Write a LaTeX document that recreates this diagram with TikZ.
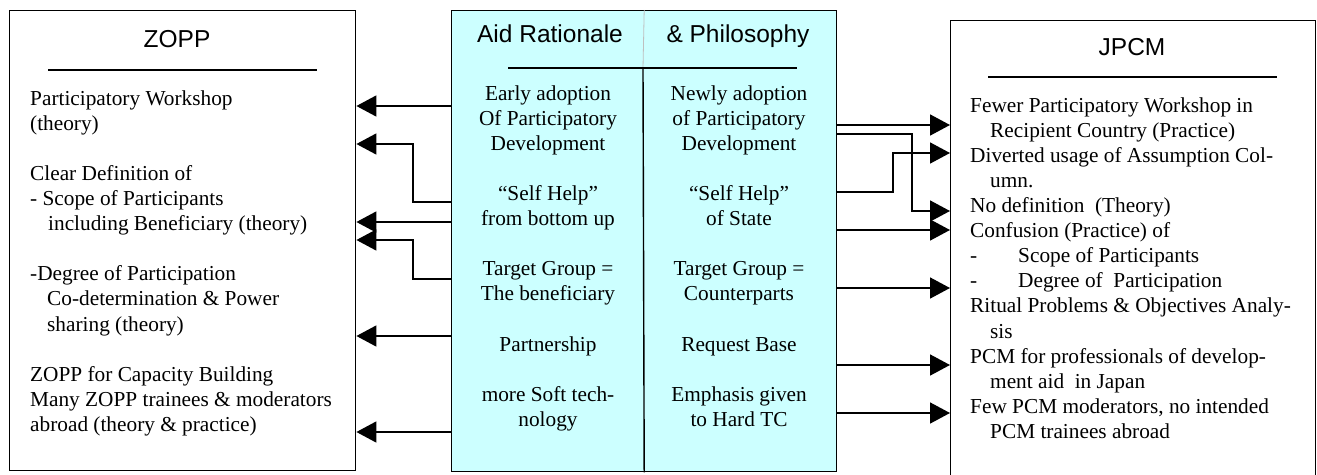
\documentclass[tikz,border=0pt]{standalone}
\usepackage{fontspec}
\setmainfont{Liberation Serif}
\newfontfamily\titlefont{Liberation Sans}
\usetikzlibrary{arrows.meta}
\definecolor{aidcyan}{HTML}{CCFFFF}
\begin{document}
\begin{tikzpicture}[x=1pt,y=-1pt,
  box/.style={draw=black, line width=1.4pt, inner sep=0pt, anchor=north west},
  arr/.style={-{Triangle[length=20pt,width=21pt]}, line width=1.6pt},
  body/.style={font=\fontsize{21.3}{25.1}\selectfont, inner sep=0pt, anchor=north west, align=left},
  mid/.style={font=\fontsize{21.3}{25.1}\selectfont, inner sep=0pt, anchor=north, align=center},
  ttl/.style={font=\titlefont\fontsize{24.5}{28}\selectfont, inner sep=0pt, anchor=base},
  rule/.style={line width=1.4pt}]
\useasboundingbox (0,0) rectangle (1317,474);
% boxes
\node[box, minimum width=346pt, minimum height=460pt] (zopp) at (9,10) {};
\node[box, fill=aidcyan, minimum width=385pt, minimum height=461pt] (aid) at (451,10) {};
\node[box, minimum width=365pt, minimum height=470pt] (jpcm) at (950,20) {};
% divider of the middle box
\draw[gray!50, line width=0.8pt] (aid.north) -- (643,68);
\draw[line width=1.4pt] (643,68) -- (aid.south);
% titles
\node[ttl] (tz) at (177,47) {ZOPP};
\node[ttl] (ta) at (550,42) {Aid Rationale};
\node[ttl] (tp) at (738,42) {\& Philosophy};
\node[ttl] (tj) at (1132,55) {JPCM};
\draw[rule] (48,70) -- (317,70);
\draw[rule] (508,68) -- (797,68);
\draw[rule] (988,77) -- (1277,77);
% texts
\node[body] (zt) at (30,87.4) {\strut Participatory Workshop\\
(theory)\\[25.1pt]
Clear Definition of\\
- Scope of Participants\\
\hspace*{18pt}including Beneficiary (theory)\\[25.1pt]
-Degree of Participation\\
\hspace*{17pt}Co-determination \& Power\\
\hspace*{17pt}sharing (theory)\\[25.1pt]
ZOPP for Capacity Building\\
Many ZOPP trainees \& moderators\\
abroad (theory \& practice)};
\node[mid] (al) at (548,82.4) {\strut Early adoption\\
Of Participatory\\
Development\\[25.1pt]
``Self Help''\\
from bottom up\\[25.1pt]
Target Group =\\
The beneficiary\\[25.1pt]
Partnership\\[25.1pt]
more Soft tech-\\
nology};
\node[mid] (ar) at (739,82.4) {\strut Newly adoption\\
of Participatory\\
Development\\[25.1pt]
``Self Help''\\
of State\\[25.1pt]
Target Group =\\
Counterparts\\[25.1pt]
Request Base\\[25.1pt]
Emphasis given\\
to Hard TC};
\node[body] (jt) at (970,94.4) {\strut Fewer Participatory Workshop in\\
\hspace*{20pt}Recipient Country (Practice)\\
Diverted usage of Assumption Col-\\
\hspace*{20pt}umn.\\
No definition\ \ (Theory)\\
Confusion (Practice) of\\
\makebox[48pt][l]{-}Scope of Participants\\
\makebox[48pt][l]{-}Degree of\ \ Participation\\
Ritual Problems \& Objectives Analy-\\
\hspace*{20pt}sis\\
PCM for professionals of develop-\\
\hspace*{20pt}ment aid\ \ in Japan\\
Few PCM moderators, no intended\\
\hspace*{20pt}PCM trainees abroad};
% arrows to ZOPP
\draw[arr] (aid.west |- 0,106) -- (zopp.east |- 0,106);
\draw[arr] (aid.west |- 0,202) -| (413,144) -- (zopp.east |- 0,144);
\draw[arr] (aid.west |- 0,222) -- (zopp.east |- 0,222);
\draw[arr] (aid.west |- 0,279) -| (413,240) -- (zopp.east |- 0,240);
\draw[arr] (aid.west |- 0,336) -- (zopp.east |- 0,336);
\draw[arr] (aid.west |- 0,432) -- (zopp.east |- 0,432);
% arrows to JPCM
\draw[arr] (aid.east |- 0,125) -- (jpcm.west |- 0,125);
\draw[arr] (aid.east |- 0,134) -| (912,211) -- (jpcm.west |- 0,211);
\draw[arr] (aid.east |- 0,192) -| (893,153) -- (jpcm.west |- 0,153);
\draw[arr] (aid.east |- 0,230) -- (jpcm.west |- 0,230);
\draw[arr] (aid.east |- 0,288) -- (jpcm.west |- 0,288);
\draw[arr] (aid.east |- 0,365) -- (jpcm.west |- 0,365);
\draw[arr] (aid.east |- 0,413) -- (jpcm.west |- 0,413);
\end{tikzpicture}
\end{document}
